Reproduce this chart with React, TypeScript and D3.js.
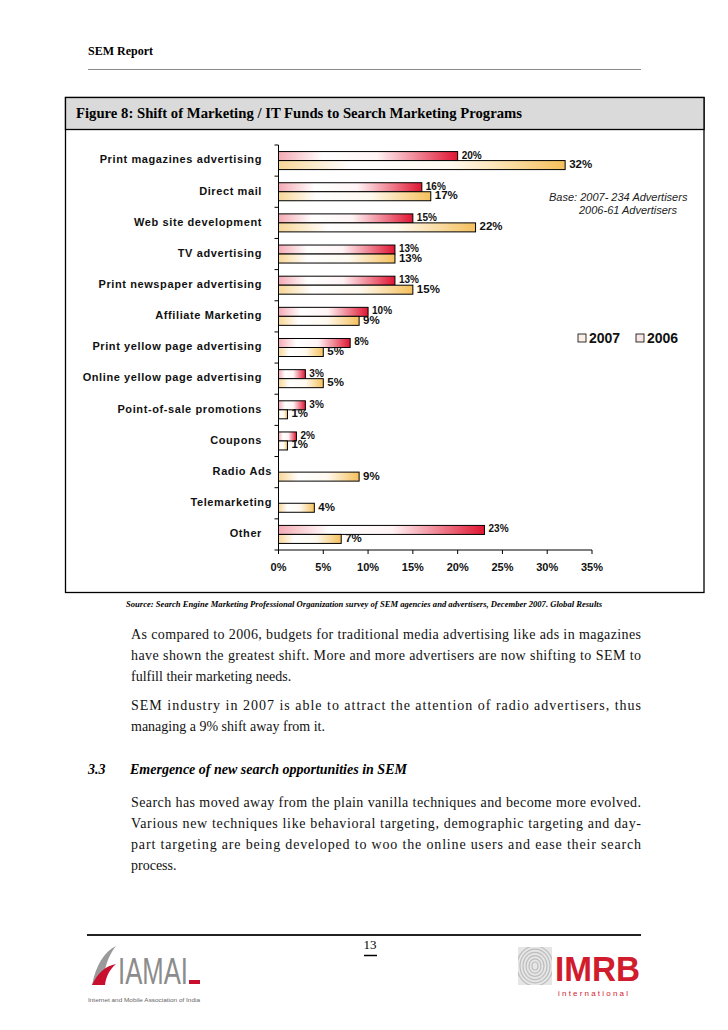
import * as d3 from "d3";

const categories = [
  "Print magazines advertising",
  "Direct mail",
  "Web site development",
  "TV advertising",
  "Print newspaper advertising",
  "Affiliate Marketing",
  "Print yellow page advertising",
  "Online yellow page advertising",
  "Point-of-sale promotions",
  "Coupons",
  "Radio Ads",
  "Telemarketing",
  "Other",
];
const values2007 = [20, 16, 15, 13, 13, 10, 8, 3, 3, 2, 0, 0, 23];
const values2006 = [32, 17, 22, 13, 15, 9, 5, 5, 1, 1, 9, 4, 7];
const seriesNames = ["2007", "2006"];
const xTicks = [0, 5, 10, 15, 20, 25, 30, 35];

const para1 = [
  "As compared to 2006, budgets for traditional media advertising like ads in magazines",
  "have shown the greatest shift. More and more advertisers are now shifting to SEM to",
  "fulfill their marketing needs.",
];
const para2 = [
  "SEM industry in 2007 is able to attract the attention of radio advertisers, thus",
  "managing a 9% shift away from it.",
];
const para3 = [
  "Search has moved away from the plain vanilla techniques and become more evolved.",
  "Various new techniques like behavioral targeting, demographic targeting and day-",
  "part targeting are being developed to woo the online users and ease their search",
  "process.",
];

const serif = "'Liberation Serif', 'Times New Roman', serif";
const sans = "'Liberation Sans', Arial, sans-serif";

const Paragraph = ({ lines, y0 }: { lines: string[]; y0: number }) => (
  <g fontFamily={serif} fontSize={14} fill="#111">
    {lines.map((l, i) => (
      <text
        key={i}
        x={131}
        y={y0 + i * 21}
        textLength={i < lines.length - 1 ? 510 : undefined}
        lengthAdjust="spacing"
      >
        {l}
      </text>
    ))}
  </g>
);

export default function App() {
  const x = d3.scaleLinear().domain([0, 35]).range([278.5, 592]);
  const y = d3.scaleBand().domain(categories).range([145, 550]).padding(0);
  const sub = d3
    .scaleBand()
    .domain(seriesNames)
    .range([0, y.bandwidth()])
    .paddingInner(0)
    .paddingOuter(0.73);

  const rows = categories.map((c, i) => ({
    c,
    v: [values2007[i], values2006[i]],
  }));

  return (
    <svg
      width={728}
      height={1030}
      style={{ position: "absolute", left: 0, top: 0, background: "#fff" }}
    >
      <defs>
        <linearGradient id="g2007" x1="0" x2="1" y1="0" y2="0">
          <stop offset="0" stopColor="#f4aab4" />
          <stop offset="0.25" stopColor="#ffffff" />
          <stop offset="0.55" stopColor="#fff4f5" />
          <stop offset="1" stopColor="#e01532" />
        </linearGradient>
        <linearGradient id="g2006" x1="0" x2="1" y1="0" y2="0">
          <stop offset="0" stopColor="#f8d696" />
          <stop offset="0.25" stopColor="#ffffff" />
          <stop offset="0.6" stopColor="#fffaf0" />
          <stop offset="1" stopColor="#f5c05c" />
        </linearGradient>
      </defs>

      {/* page header */}
      <text x={88} y={55} fontFamily={serif} fontWeight="bold" fontSize={12}>
        SEM Report
      </text>
      <line x1={88} x2={641} y1={69.5} y2={69.5} stroke="#8a8a8a" strokeWidth={1} />

      {/* figure box */}
      <rect x={65.5} y={97.5} width={638.5} height={495} fill="#fff" stroke="#000" strokeWidth={1.3} />
      <rect x={65.5} y={97.5} width={638.5} height={32} fill="#dadada" stroke="#000" strokeWidth={1.3} />
      <text
        x={76}
        y={117.5}
        fontFamily={serif}
        fontWeight="bold"
        fontSize={15}
        textLength={446}
        lengthAdjust="spacingAndGlyphs"
      >
        Figure 8: Shift of Marketing / IT Funds to Search Marketing Programs
      </text>

      {/* bars */}
      {rows.map((r) => (
        <g key={r.c} transform={`translate(0,${y(r.c)})`}>
          {r.v.map((v, j) =>
            v > 0 ? (
              <g key={j}>
                <rect
                  x={x(0)}
                  y={sub(seriesNames[j])}
                  width={x(v) - x(0)}
                  height={sub.bandwidth()}
                  fill={`url(#g${seriesNames[j]})`}
                  stroke="#000"
                  strokeWidth={1}
                />
                <text
                  x={x(v) + 4}
                  y={(sub(seriesNames[j]) ?? 0) + sub.bandwidth() / 2 - 1}
                  dy="0.35em"
                  fontFamily={sans}
                  fontWeight="bold"
                  fontSize={j === 0 ? 10 : 11.5}
                  fill="#111"
                >
                  {v}%
                </text>
              </g>
            ) : null
          )}
          <text
            x={r.v[0] > 0 ? 262 : 272}
            y={y.bandwidth() / 2 - 1}
            dy="0.35em"
            textAnchor="end"
            fontFamily={sans}
            fontWeight="bold"
            fontSize={11}
            letterSpacing={0.6}
            fill="#111"
          >
            {r.c}
          </text>
        </g>
      ))}

      {/* y axis */}
      <line x1={x(0)} x2={x(0)} y1={145} y2={550} stroke="#000" strokeWidth={1} />
      {[...categories.map((c) => y(c) ?? 0), 550].map((t, i) => (
        <line key={i} x1={x(0) - 4} x2={x(0)} y1={t} y2={t} stroke="#000" strokeWidth={1} />
      ))}

      {/* x axis */}
      <line x1={x(0)} x2={x(35)} y1={550} y2={550} stroke="#000" strokeWidth={1} />
      {xTicks.map((t) => (
        <g key={t}>
          <line x1={x(t)} x2={x(t)} y1={550} y2={554} stroke="#000" strokeWidth={1} />
          <text
            x={x(t)}
            y={571}
            textAnchor="middle"
            fontFamily={sans}
            fontWeight="bold"
            fontSize={11}
            fill="#111"
          >
            {t}%
          </text>
        </g>
      ))}

      {/* base note */}
      <g fontFamily={sans} fontStyle="italic" fontSize={11} fill="#222">
        <text x={549} y={200.5}>Base: 2007- 234 Advertisers</text>
        <text x={579} y={214}>2006-61 Advertisers</text>
      </g>

      {/* legend */}
      {seriesNames.map((s, i) => (
        <g key={s} transform={`translate(${578 + i * 58},334)`}>
          <rect x={0} y={0} width={8} height={8} fill={i === 0 ? "#fbeee6" : "#f8e6e6"} stroke="#000" strokeWidth={0.8} />
          <text x={11} y={9} fontFamily={sans} fontWeight="bold" fontSize={14} fill="#111">
            {s}
          </text>
        </g>
      ))}

      {/* source */}
      <text
        x={126}
        y={607}
        fontFamily={serif}
        fontWeight="bold"
        fontStyle="italic"
        fontSize={8}
        textLength={476}
        lengthAdjust="spacingAndGlyphs"
      >
        Source: Search Engine Marketing Professional Organization survey of SEM agencies and advertisers, December 2007. Global Results
      </text>

      <Paragraph lines={para1} y0={639} />
      <Paragraph lines={para2} y0={710} />

      <g fontFamily={serif} fontWeight="bold" fontStyle="italic" fontSize={14}>
        <text x={88} y={774}>3.3</text>
        <text x={130} y={774}>Emergence of new search opportunities in SEM</text>
      </g>

      <Paragraph lines={para3} y0={807} />

      {/* footer */}
      <line x1={87} x2={641} y1={935} y2={935} stroke="#222" strokeWidth={2} />
      <text x={370} y={949} textAnchor="middle" fontFamily={serif} fontSize={13}>
        13
      </text>
      <line x1={364} x2={377} y1={955.5} y2={955.5} stroke="#000" strokeWidth={1.5} />

      {/* IAMAI logo */}
      <path d="M92,985 C96,965 104,952 116,946 C108,956 104,968 103,985 Z" fill="#9a9a9a" />
      <path d="M92,985 C98,972 106,966 116,964 C109,970 106,977 105,985 Z" fill="#c8102e" />
      <text x={118} y={984} fontFamily={sans} fontSize={36} fill="#8c8c8c" textLength={70} lengthAdjust="spacingAndGlyphs">
        IAMAI
      </text>
      <rect x={189} y={980} width={11} height={4} fill="#c8102e" />
      <text x={88} y={1002} fontFamily={sans} fontSize={5.5} fill="#666" textLength={112} lengthAdjust="spacingAndGlyphs">
        Internet and Mobile Association of India
      </text>

      {/* IMRB logo */}
      <rect x={518} y={947} width={34} height={38} fill="#e6e6e6" />
      {d3.range(6).map((k) => (
        <ellipse key={k} cx={535} cy={966} rx={3 + k * 3} ry={4 + k * 3.2} fill="none" stroke="#bdbdbd" strokeWidth={1.2} />
      ))}
      <rect x={517} y={946} width={36} height={40} fill="none" stroke="#fff" strokeWidth={2} />
      <text x={555} y={981} fontFamily={sans} fontWeight="bold" fontSize={35} fill="#d01c2c" textLength={85} lengthAdjust="spacingAndGlyphs">
        IMRB
      </text>
      <text x={558} y={996} fontFamily={sans} fontSize={8} fill="#d01c2c" letterSpacing={2.2}>
        international
      </text>
    </svg>
  );
}
